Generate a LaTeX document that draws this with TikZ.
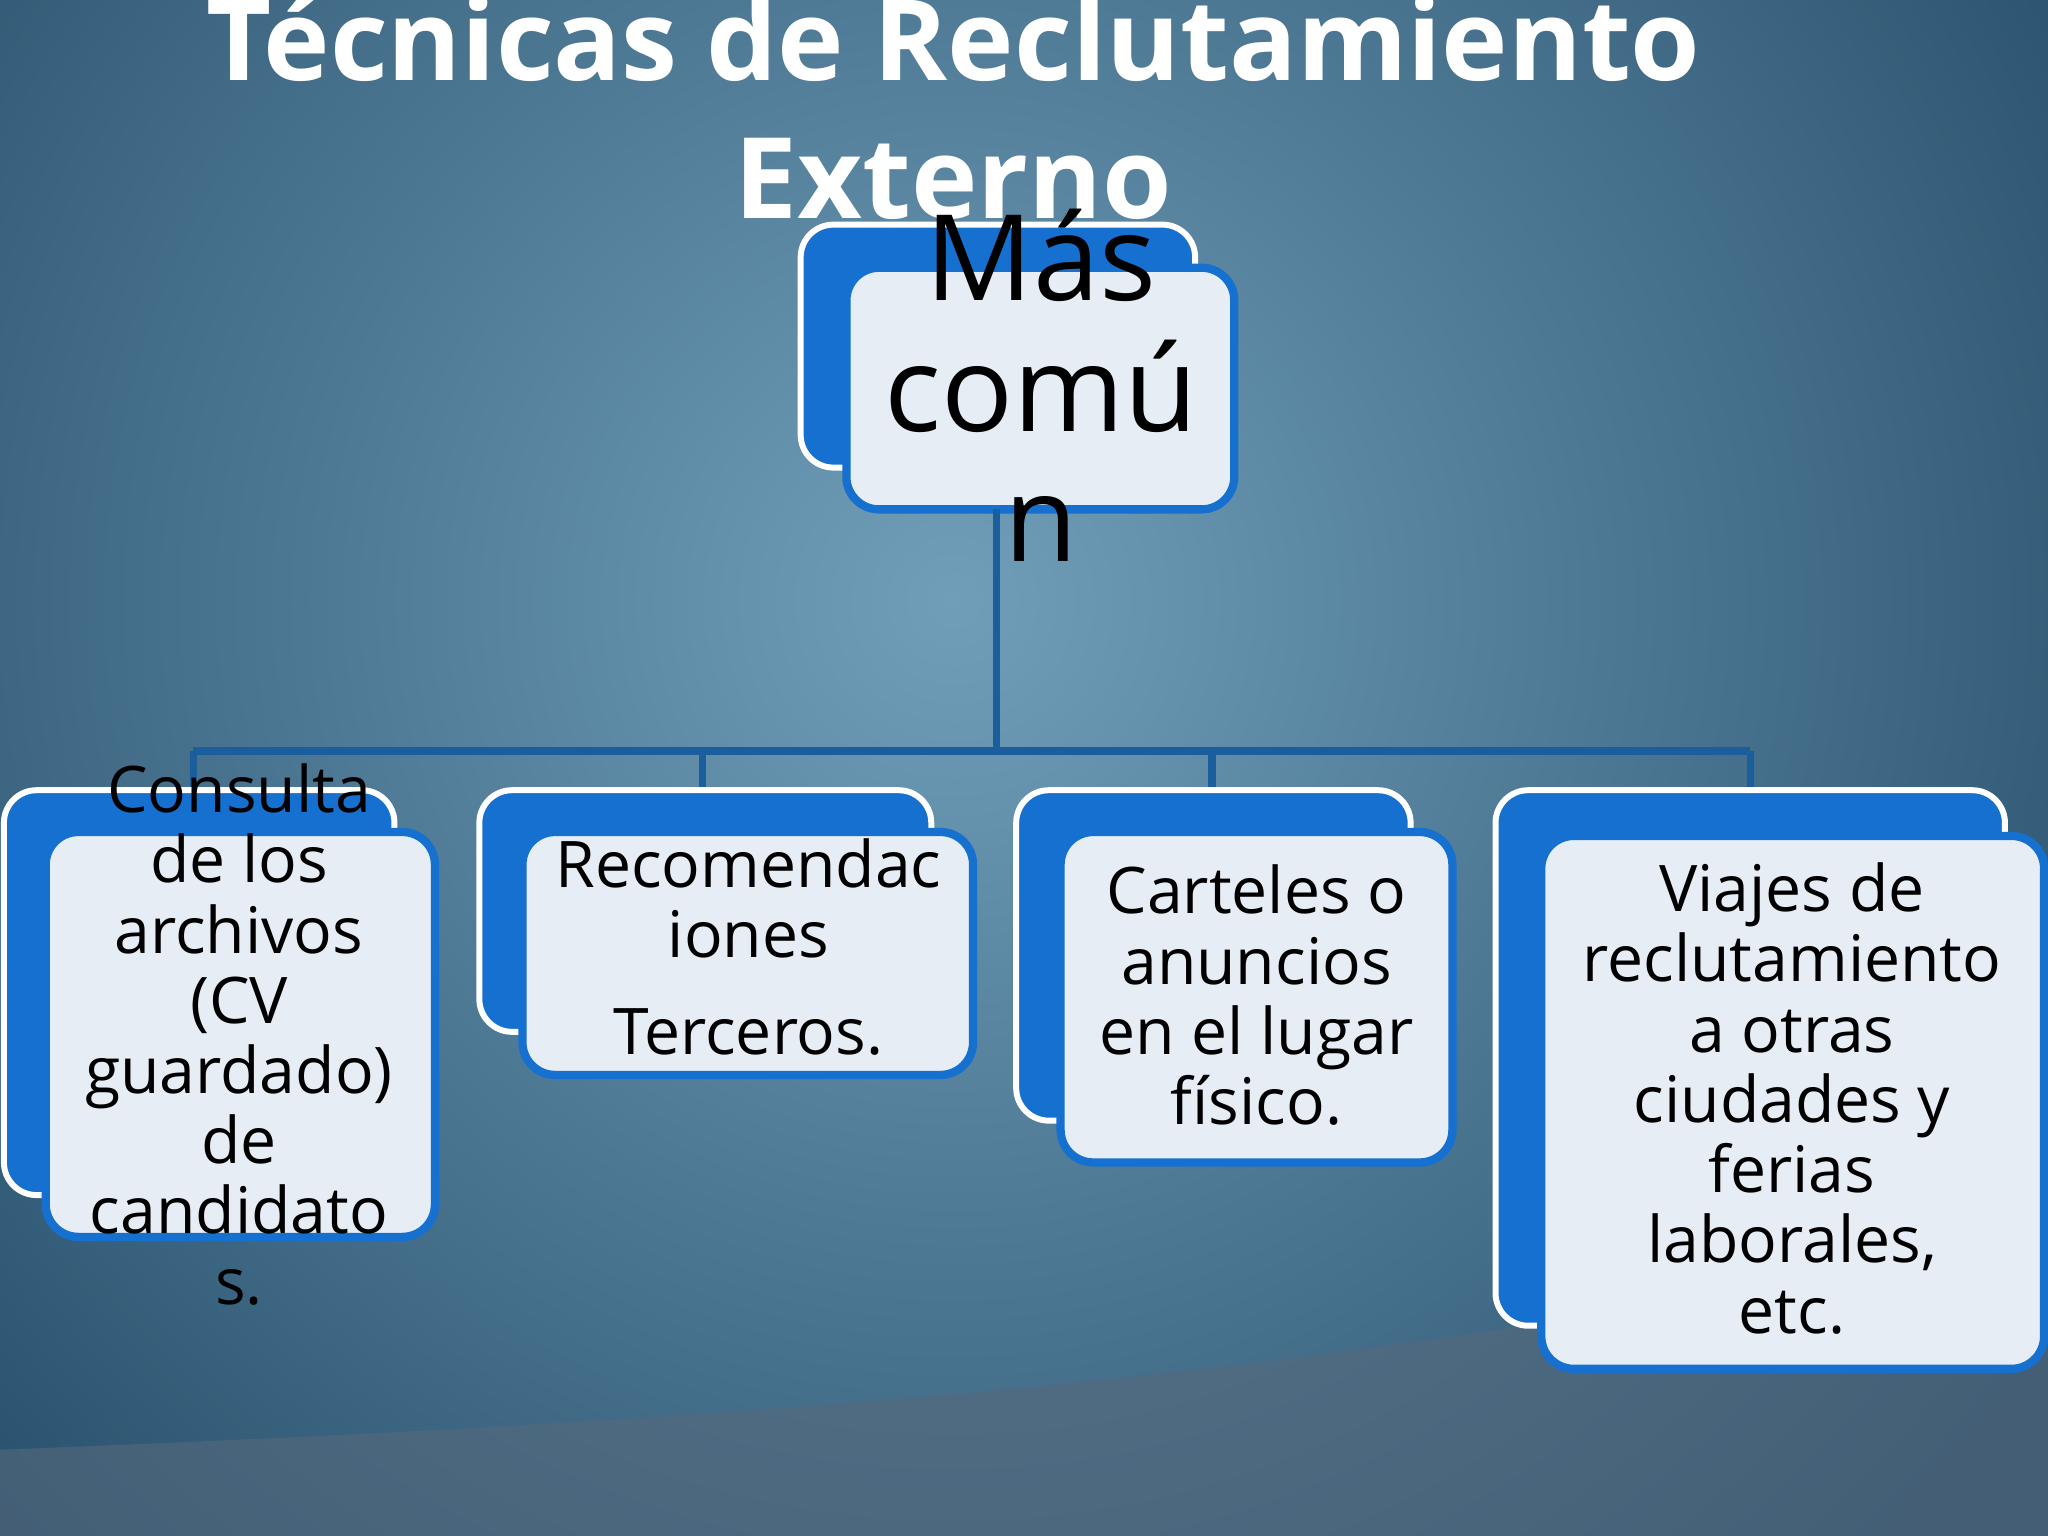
\documentclass[tikz,border=0pt]{standalone}
\usepackage{fontspec}
\setmainfont{Open Sans}
\begin{document}
\begin{tikzpicture}[
  backbox/.style={fill=boxblue,draw=white,line width=1.3pt,rounded corners=0.25cm},
  frontbox/.style={fill=boxlight,draw=boxblue,line width=1.8pt,rounded corners=0.25cm},
  conn/.style={draw=lineblue,line width=1.6pt},
  txt/.style={align=center,font=\fontsize{14}{15.3}\selectfont,text=black,inner sep=0pt}
]
\definecolor{boxblue}{HTML}{1670D0}
\definecolor{boxlight}{HTML}{E6EDF5}
\definecolor{lineblue}{HTML}{1A5E9E}
\useasboundingbox (0,0) rectangle (15.68,-11.76);
\begin{scope}
\clip (0,0) rectangle (15.68,-11.76);
\fill[color={rgb,255:red,40;green,78;blue,105}] (0,0) rectangle (15.68,-11.76);
\shade[inner color={rgb,255:red,112;green,158;blue,185},outer color={rgb,255:red,42;green,82;blue,110}] (7.3,-4.6) circle (10);
\fill[color={rgb,255:red,85;green,105;blue,125},opacity=0.6] (0,-11.1) .. controls (5,-10.9) and (11,-10.6) .. (15.68,-9.3) -- (15.68,-11.76) -- (0,-11.76) -- cycle;
\end{scope}
% title
\node[name=title,text=white,font=\fontsize{24.5}{30}\bfseries\selectfont,align=center] at (7.3,-0.82) {Técnicas de Reclutamiento\\Externo};
% top
\draw[backbox] (6.13,-1.72) rectangle (9.15,-3.58);
\draw[frontbox] (6.48,-2.05) rectangle (9.45,-3.9);
\coordinate (topb) at (7.63,-3.9);
\node[name=top,txt,font=\fontsize{26}{28.5}\selectfont] at (7.97,-2.95) {Más\\comú\\n};
% connectors
\coordinate (hub) at (7.63,-5.75);
\coordinate (h1) at (1.48,-5.75);\coordinate (h2) at (5.38,-5.75);\coordinate (h3) at (9.28,-5.75);\coordinate (h4) at (13.40,-5.75);
\coordinate (t1) at (1.48,-6.05);\coordinate (t2) at (5.38,-6.05);\coordinate (t3) at (9.28,-6.05);\coordinate (t4) at (13.40,-6.05);
\draw[conn] (topb) -- (hub);
\draw[conn] (h1) -- (h4);
\draw[conn] (h1)--(t1); \draw[conn] (h2)--(t2); \draw[conn] (h3)--(t3); \draw[conn] (h4)--(t4);
% box1
\draw[backbox] (0.03,-6.05) rectangle (3.02,-9.15);
\draw[frontbox] (0.35,-6.37) rectangle (3.33,-9.47);
\node[name=b1,txt] at (1.83,-7.92) {Consulta\\de los\\archivos\\(CV\\guardado)\\de\\candidato\\s.};
% box2
\draw[backbox] (3.67,-6.05) rectangle (7.13,-7.9);
\draw[frontbox] (4.0,-6.37) rectangle (7.45,-8.23);
\node[name=b2,txt] at (5.73,-7.25) {Recomendac\\iones\\[0.2cm]Terceros.};
% box3
\draw[backbox] (7.78,-6.05) rectangle (10.8,-8.58);
\draw[frontbox] (8.12,-6.37) rectangle (11.12,-8.9);
\node[name=b3,txt] at (9.62,-7.62) {Carteles o\\anuncios\\en el lugar\\físico.};
% box4
\draw[backbox] (11.45,-6.05) rectangle (15.35,-10.15);
\draw[frontbox] (11.8,-6.4) rectangle (15.65,-10.48);
\node[name=b4,txt] at (13.72,-8.41) {Viajes de\\reclutamiento\\a otras\\ciudades y\\ferias\\laborales,\\etc.};
\end{tikzpicture}
\end{document}
